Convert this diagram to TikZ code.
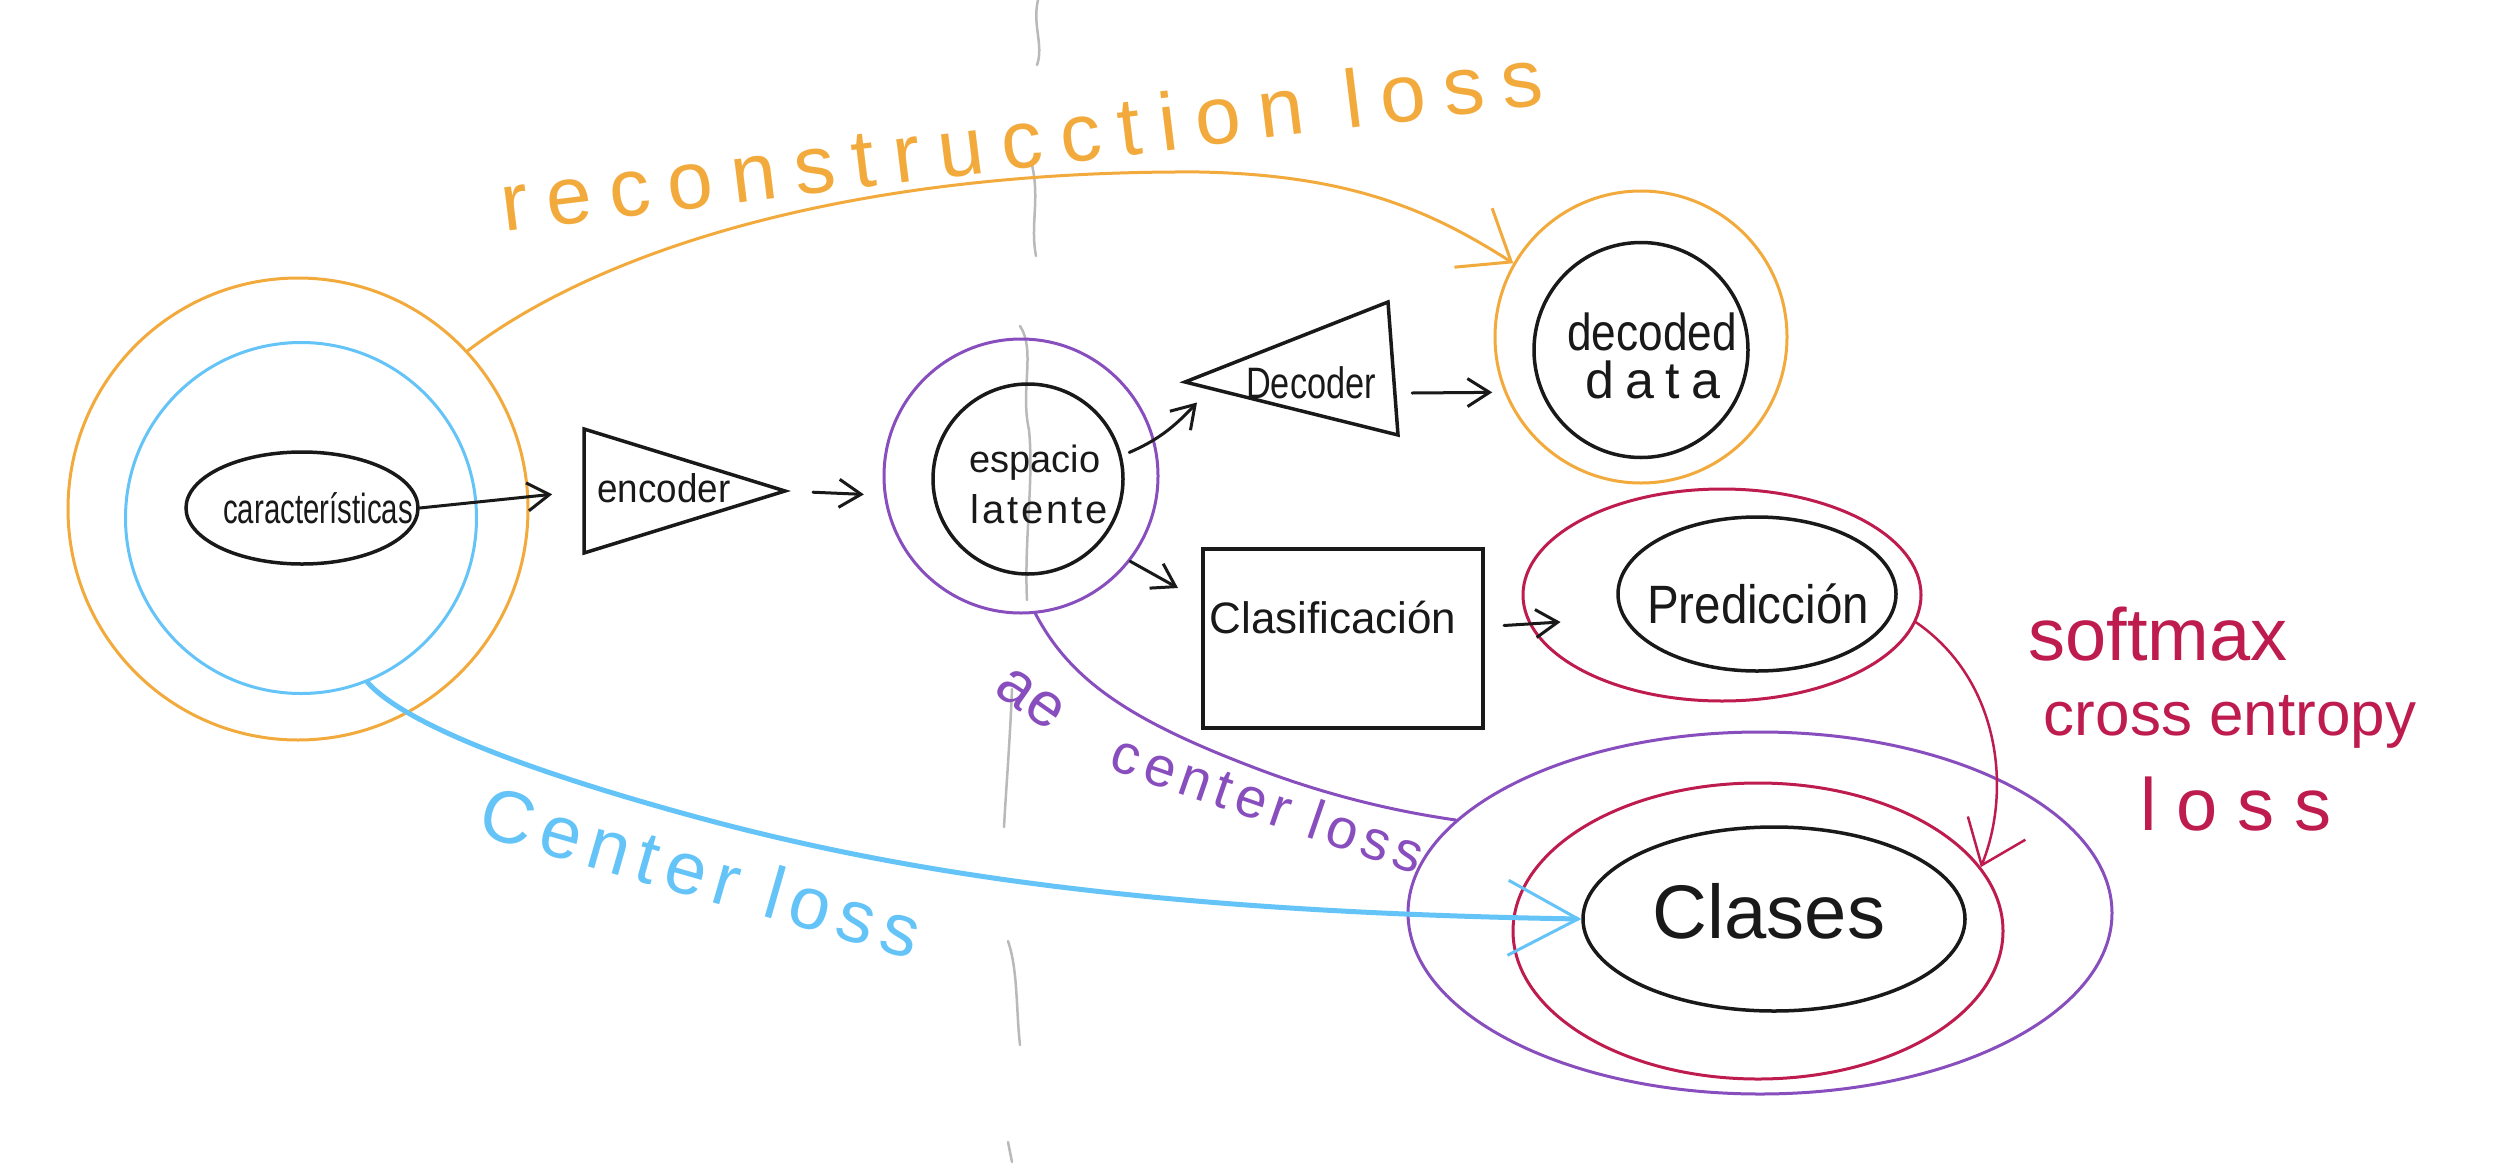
\documentclass[tikz,border=0pt]{standalone}
\usepackage{graphicx}
\usepackage{fontspec}
\setmainfont{Liberation Sans}
\usetikzlibrary{shapes.geometric,arrows.meta,calc}
\definecolor{korange}{RGB}{242,170,60}
\definecolor{kblue}{RGB}{100,196,248}
\definecolor{kpurple}{RGB}{136,78,190}
\definecolor{kred}{RGB}{190,28,78}
\definecolor{kink}{RGB}{25,25,25}
\definecolor{kgray}{RGB}{185,185,185}
\newcommand{\kfs}[1]{\fontsize{#1pt}{#1pt}\selectfont}
\newcommand{\kxs}[2]{\scalebox{#1}[1]{#2}}
\newcommand{\ksp}[1]{\addfontfeatures{LetterSpace=#1}}
\begin{document}
\begin{tikzpicture}[x=1pt,y=-1pt,
  ring/.style={ellipse, draw, inner sep=0pt, line width=3pt},
  inkring/.style={ring, draw=kink, line width=3.5pt},
  frame/.style={inner sep=0pt, outer sep=0pt},
  shapeline/.style={draw=kink, line width=3.5pt, line join=miter},
  lbl/.style={inner sep=0pt, anchor=base, text=kink},
  arr/.style={draw=kink, line width=3pt, line cap=round, -{Straight Barb[length=22pt,width=28pt]}},
  graystroke/.style={draw=kgray, line width=2.5pt, line cap=round},
  lossline/.style={line width=3pt, line cap=round}
]
\fill[white] (0,0) rectangle (2500,1162);
\useasboundingbox (0,0) rectangle (2500,1162);

% gray page marker
\draw[graystroke] (1038,0) .. controls (1032,25) and (1044,45) .. (1037,65);
\draw[graystroke] (1032,165) .. controls (1040,200) and (1030,225) .. (1036,256);
\draw[graystroke] (1020,326) .. controls (1036,350) and (1020,390) .. (1029,430) .. controls (1034,480) and (1024,540) .. (1027,600);
\draw[graystroke] (1012,689) .. controls (1010,740) and (1006,790) .. (1004,827);
\draw[graystroke] (1008,941) .. controls (1018,970) and (1016,1010) .. (1020,1045);
\draw[graystroke] (1008,1142) -- (1012,1162);

% features
\node[ring, draw=korange, minimum width=460pt, minimum height=462pt] (carO) at (298,509) {};
\node[ring, draw=kblue, minimum width=351pt, minimum height=351pt] (bluO) at (301,518) {};
\node[inkring, minimum width=232pt, minimum height=112pt] (car) at (302,508) {};
\node[lbl] (cartxt) at (318,523) {\kfs{42}\kxs{0.70}{características}};

% encoder
\node[frame, minimum width=201pt, minimum height=124pt] (enc) at (684.5,491) {};
\draw[shapeline] (enc.north west) -- (enc.east) -- (enc.south west) -- cycle;
\node[lbl] (enctxt) at (664,502) {\kfs{40}\kxs{0.92}{encoder}};

% latent space
\node[ring, draw=kpurple, minimum width=274pt, minimum height=274pt] (espO) at (1021,476) {};
\node[inkring, minimum width=190pt, minimum height=190pt] (espI) at (1028,479) {};
\node[lbl] (esptxt1) at (1035,472) {\kfs{38}espacio};
\node[lbl] (esptxt2) at (1039,523) {\kfs{40}\ksp{7}latente};

% decoder
\node[frame, minimum width=213pt, minimum height=133pt] (dec) at (1291.5,368.5) {};
\draw[shapeline] ($(dec.west)+(0,13.5)$) -- ($(dec.north east)+(-10,0)$) -- (dec.south east) -- cycle;
\node[lbl] (dectxt) at (1311,398) {\kfs{44}\kxs{0.78}{Decoder}};

% decoded data
\node[ring, draw=korange, minimum width=292pt, minimum height=292pt] (decO) at (1641,337) {};
\node[inkring, minimum width=214pt, minimum height=215pt] (decI) at (1641,350) {};
\node[lbl] (ddtxt1) at (1652,350) {\kfs{52}\kxs{0.85}{decoded}};
\node[lbl] (ddtxt2) at (1653,398) {\kfs{52}\ksp{22}data};

% classification
\node[frame, draw=kink, line width=4pt, minimum width=280pt, minimum height=179pt] (cls) at (1343,638.5) {};
\node[lbl] (clstxt) at (1333,633) {\kfs{44}Clasificación};

% prediction
\node[ring, draw=kred, minimum width=398pt, minimum height=212pt] (predO) at (1722,595) {};
\node[inkring, minimum width=278pt, minimum height=154pt] (predI) at (1757,594) {};
\node[lbl] (predtxt) at (1758,623) {\kfs{54}\kxs{0.88}{Predicción}};

% classes
\node[ring, draw=kpurple, minimum width=704pt, minimum height=362pt] (claO) at (1760,913) {};
\node[ring, draw=kred, minimum width=490pt, minimum height=296pt] (claR) at (1758,931) {};
\node[inkring, minimum width=382pt, minimum height=184pt] (claI) at (1774,919) {};
\node[lbl] (clatxt) at (1769,938) {\kfs{76}Clases};

% black flow arrows
\draw[arr, shorten >=32pt] (car.east) -- (enc.west);
\draw[arr, shorten <=28pt, shorten >=20pt] (enc.east) -- (espO.188);
\coordinate (decin) at ($(dec.west)+(12,34)$);
\draw[arr, shorten <=8pt] (espI.14) to[bend right=12] (decin);
\coordinate (clsin) at ($(cls.north west)+(-25,39)$);
\draw[arr] (espO.-38) -- (clsin);
\coordinate (decout) at ($(dec.east)+(14,24.5)$);
\draw[arr, shorten >=12pt] (decout) -- (decO.202);
\coordinate (clsout) at ($(cls.east)+(21,-13)$);
\coordinate (predin) at ($(predO.west)+(39,27)$);
\draw[arr] (clsout) -- (predin);

% losses
\draw[lossline, draw=korange, -{Straight Barb[length=45pt,width=70pt]}]
  (carO.43) .. controls (600,250) and (850,170) .. (1200,172)
  .. controls (1350,175) and (1430,210) .. (decO.150);
\node[lbl, text=korange, rotate=7] (rectxt) at (1025,168) {\kfs{82}\ksp{22}reconstrucction loss};

\draw[lossline, draw=kblue, line width=5pt, -{Straight Barb[length=70pt,width=75pt,line width=3pt]}]
  (bluO.-68) .. controls (410,730) and (560,780) .. (700,818)
  .. controls (900,872) and (1150,912) .. (claI.west);
\node[lbl, text=kblue, rotate=-16] (bluetxt) at (694,897) {\kfs{74}\ksp{12}Center loss};

\draw[lossline, draw=kpurple]
  (espO.-84) .. controls (1070,680) and (1130,720) .. (1250,766)
  .. controls (1330,797) and (1400,812) .. (claO.163);
\node[lbl, text=kpurple, rotate=-35] (aetxt) at (1021,712) {\kfs{62}ae};
\node[lbl, text=kpurple, rotate=-19] (pcltxt) at (1262,822) {\kfs{56}\ksp{11}center loss};

\draw[lossline, draw=kred, line width=2.5pt, -{Straight Barb[length=40pt,width=62pt]}]
  (predO.-8) .. controls (2000,680) and (2012,790) .. (claR.16);
\node[lbl, text=kred] (smtxt1) at (2158,660) {\kfs{74}softmax};
\node[lbl, text=kred] (smtxt2) at (2230,735) {\kfs{62}cross entropy};
\node[lbl, text=kred] (smtxt3) at (2236,830) {\kfs{74}\ksp{27}loss};
\end{tikzpicture}
\end{document}
